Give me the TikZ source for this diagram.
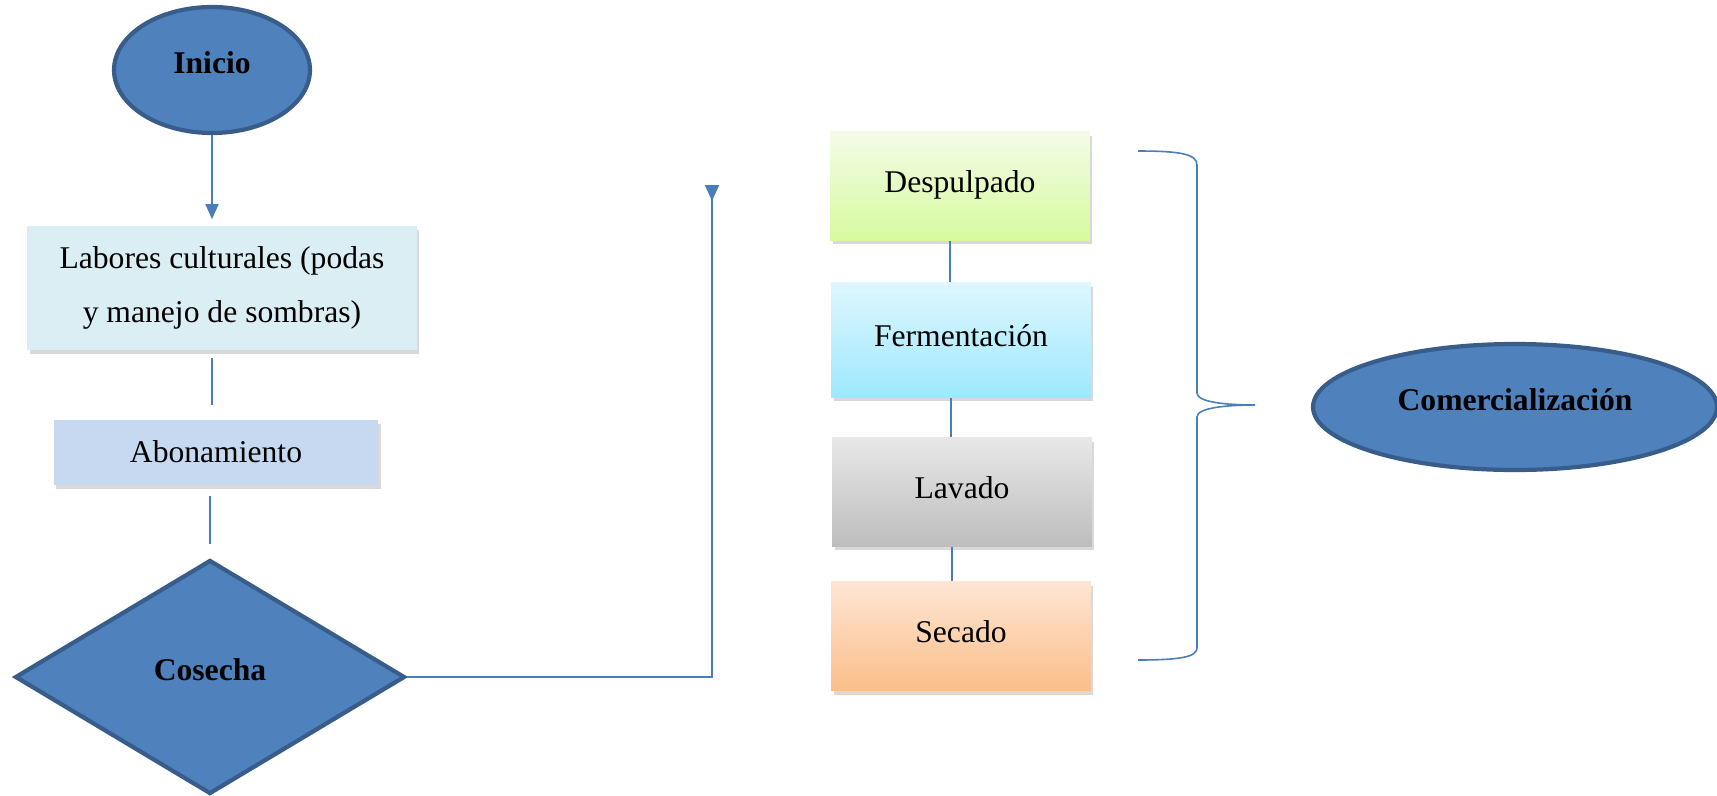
\documentclass[tikz,border=0pt]{standalone}
\usepackage{fontspec}
\setmainfont{Liberation Serif}
\usetikzlibrary{arrows.meta,shapes.geometric,shadows}
\definecolor{ofblue}{HTML}{4F81BD}
\definecolor{ofedge}{HTML}{385D8A}
\definecolor{lnblue}{HTML}{4A7EBB}
\definecolor{labfill}{HTML}{DAEEF3}
\definecolor{abofill}{HTML}{C6D9F1}
\definecolor{desptop}{HTML}{F3FCE8}
\definecolor{despbot}{HTML}{D7FA9E}
\definecolor{fermtop}{HTML}{DFF7FE}
\definecolor{fermbot}{HTML}{9DE8FE}
\definecolor{lavtop}{HTML}{E8E8E8}
\definecolor{lavbot}{HTML}{BDBDBD}
\definecolor{sectop}{HTML}{FEE6D4}
\definecolor{secbot}{HTML}{FBBE8A}

\begin{document}
\begin{tikzpicture}[x=0.02cm,y=-0.02cm,font=\fontsize{18}{31}\selectfont,
  term/.style={draw=ofedge,line width=2.4pt,fill=ofblue,inner sep=0pt,text depth=.28cm,font=\fontsize{18}{22}\selectfont\bfseries},
  box/.style={rectangle,inner sep=0pt,align=center,drop shadow={opacity=.3,shadow xshift=.05cm,shadow yshift=-.08cm}},
  stage/.style={box,minimum width=5.2cm,minimum height=2.18cm,text height=.48cm,text depth=.22cm},
  link/.style={draw=lnblue,line width=.9pt}]
\useasboundingbox (0,0) rectangle (1717,795);
% left column
\node[term,ellipse,minimum width=3.92cm,minimum height=2.52cm] (inicio) at (212,70) {Inicio};
\node[box,fill=labfill,minimum width=7.8cm,minimum height=2.5cm] (labores) at (222,288) {Labores culturales (podas\\y manejo de sombras)};
\node[box,fill=abofill,minimum width=6.5cm,minimum height=1.3cm] (abono) at (216,452) {Abonamiento};
\node[term,diamond,minimum width=7.8cm,minimum height=4.68cm] (cosecha) at (210,677) {Cosecha};
\draw[link,-{Triangle[width=.26cm,length=.3cm]},shorten >=.12cm] (inicio.south) -- (inicio.south |- labores.north);
\draw[link,shorten <=.14cm,shorten >=.28cm] (labores.south -| inicio.south) -- (abono.north -| inicio.south);
\draw[link,shorten <=.22cm,shorten >=.28cm] (abono.south -| cosecha.north) -- (cosecha.north);
\coordinate (top) at (712,185);
\draw[link,-{Triangle[reversed,width=.28cm,length=.32cm]}] (cosecha.east) -| (top);
% processing stages
\node[stage,top color=desptop,bottom color=despbot] (desp) at (960,186) {Despulpado};
\node[stage,top color=fermtop,bottom color=fermbot,minimum height=2.3cm] (ferm) at (961,340) {Fermentación};
\node[stage,top color=lavtop,bottom color=lavbot] (lav) at (962,492) {Lavado};
\node[stage,top color=sectop,bottom color=secbot] (sec) at (961,636) {Secado};
\foreach \a/\b in {desp/ferm,ferm/lav,lav/sec}
  \draw[link] ([xshift=-.2cm]\a.south) -- ([xshift=-.2cm]\a.south |- \b.north);
% brace and end
\coordinate (tip) at (1255,405);
\draw[link] (1138,151) .. controls (1180,151) and (1197,154) .. (1197,165) -- (1197,393)
  .. controls (1197,402) and (1225,405) .. (tip)
  .. controls (1225,405) and (1197,408) .. (1197,417) -- (1197,648)
  .. controls (1197,657) and (1180,660) .. (1138,660);
\node[term,ellipse,minimum width=8.08cm,minimum height=2.52cm] (comer) at (1515,407) {Comercialización};
\end{tikzpicture}
\end{document}
